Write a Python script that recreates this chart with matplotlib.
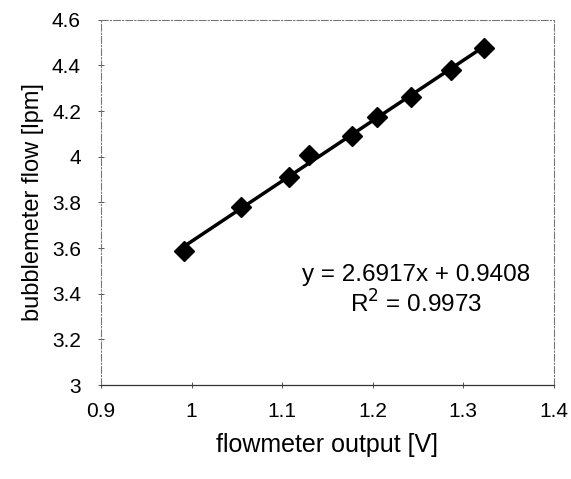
import matplotlib.pyplot as plt
import numpy as np

plt.rcParams['font.family'] = ['Liberation Sans', 'DejaVu Sans']

volts = [0.992, 1.054, 1.107, 1.130, 1.177, 1.205, 1.242, 1.286, 1.323]
flow = [3.587, 3.780, 3.910, 4.006, 4.091, 4.175, 4.262, 4.381, 4.477]
xticks = [0.9, 1, 1.1, 1.2, 1.3, 1.4]
yticks = [3, 3.2, 3.4, 3.6, 3.8, 4, 4.2, 4.4, 4.6]

fig = plt.figure(figsize=(5.71, 4.79), dpi=100)
ax = fig.add_axes([0.177, 0.196, 0.793, 0.763])

slope, icpt = np.polyfit(volts, flow, 1)
xs = np.array([min(volts), max(volts)])
ax.plot(xs, slope * xs + icpt, color='black', lw=2.5, zorder=2)
ax.plot(volts, flow, 'D', color='black', ms=10, zorder=3)

ax.set_xlim(0.9, 1.4)
ax.set_ylim(3, 4.6)
ax.set_xticks(xticks)
ax.set_xticklabels(['0.9', '1', '1.1', '1.2', '1.3', '1.4'])
ax.set_yticks(yticks)
ax.set_yticklabels(['3', '3.2', '3.4', '3.6', '3.8', '4', '4.2', '4.4', '4.6'])
ax.tick_params(direction='inout', length=5, width=0.7, labelsize=15, color='#555555')
ax.tick_params(axis='y', pad=12)
ax.tick_params(axis='x', pad=10)

for side in ['top', 'right', 'left']:
    ax.spines[side].set_color('#777777')
    ax.spines[side].set_linewidth(0.8)
    ax.spines[side].set_linestyle((0, (6, 2, 1, 2)))
ax.spines['bottom'].set_color('#333333')
ax.spines['bottom'].set_linewidth(0.9)

ax.text(0.695, 0.30, 'y = 2.6917x + 0.9408', transform=ax.transAxes,
        ha='center', va='center', fontsize=17.5)
ax.text(0.695, 0.222, r'R$^2$ = 0.9973', transform=ax.transAxes,
        ha='center', va='center', fontsize=17.5)

ax.set_xlabel('flowmeter output [V]', fontsize=18, labelpad=8)
ax.set_ylabel('bubblemeter flow [lpm]', fontsize=17, labelpad=6)

fig.savefig('out.png', dpi=100)
